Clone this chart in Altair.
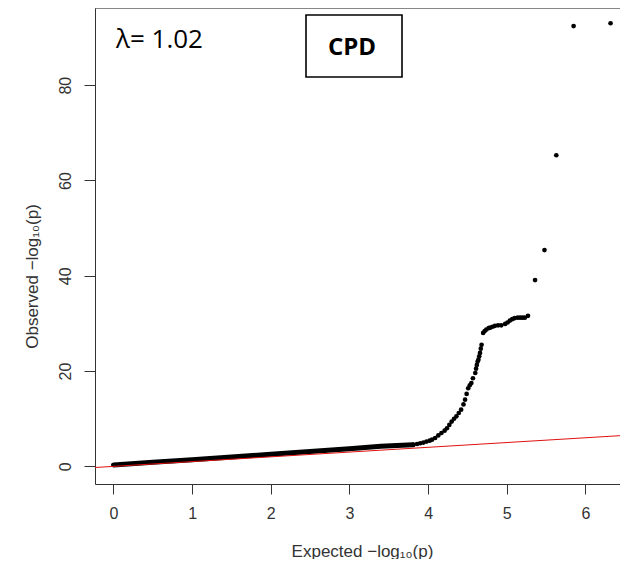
import altair as alt
import pandas as pd

# Dense lower band of the QQ plot
band_exp = [0.0, 0.5, 1.0, 1.5, 2.0, 2.5, 3.0, 3.4, 3.81]
band_obs = [0.3, 0.85, 1.4, 1.95, 2.55, 3.1, 3.7, 4.2, 4.55]

# Individually visible points of the upper tail
tail_exp = [3.81, 3.86, 3.90, 3.94, 3.98, 4.02, 4.05, 4.09, 4.13, 4.17, 4.21, 4.24,
            4.27, 4.30, 4.33, 4.36, 4.39, 4.42, 4.45, 4.47, 4.49, 4.51, 4.53, 4.55,
            4.57, 4.60, 4.61, 4.62, 4.63, 4.64, 4.65, 4.66, 4.67, 4.68, 4.70, 4.72,
            4.74, 4.77, 4.79, 4.82, 4.85, 4.89, 4.93, 4.98, 5.01, 5.04, 5.07, 5.10,
            5.14, 5.17, 5.20, 5.23, 5.27, 5.36, 5.48, 5.63, 5.85, 6.32]
tail_obs = [4.5, 4.7, 4.85, 5.0, 5.2, 5.4, 5.6, 5.95, 6.5, 7.0, 7.5, 8.0,
            8.7, 9.4, 10.0, 10.5, 11.2, 11.9, 13.0, 14.0, 15.2, 16.4, 17.0, 17.5,
            18.5, 19.6, 20.5, 21.3, 22.0, 22.4, 23.1, 23.8, 24.7, 25.5, 28.0, 28.4,
            28.7, 29.0, 29.1, 29.3, 29.5, 29.6, 29.6, 29.9, 30.2, 30.6, 30.9, 31.1,
            31.2, 31.2, 31.2, 31.2, 31.6, 39.1, 45.4, 65.3, 92.4, 93.0]

ref_line = [-0.3, 7.0]
x_ticks = [0, 1, 2, 3, 4, 5, 6]
y_ticks = [0, 20, 40, 60, 80]
x_domain = [-0.235, 6.44]
y_domain = [-3.7, 96.2]

lambda_text = ["λ= 1.02"]
box_text = ["CPD"]

W, H = 525, 476
FONT = "Liberation Sans"
GREY = "#333333"

xscale = alt.Scale(domain=x_domain, nice=False, zero=False)
yscale = alt.Scale(domain=y_domain, nice=False, zero=False)

xaxis = alt.Axis(values=x_ticks, format="d", title="Expected  −log₁₀(p)", grid=False,
                 tickSize=10, labelPadding=11, labelFontSize=16, labelFont=FONT,
                 labelColor=GREY, titleFont=FONT, titleFontSize=17,
                 titleFontWeight="normal", titleColor=GREY, titleY=67,
                 titleX=267,
                 titleBaseline="middle", domainColor=GREY, tickColor=GREY,
                 labelFlush=False)
yaxis = alt.Axis(values=y_ticks, format="d", title="Observed  −log₁₀(p)", grid=False,
                 tickSize=11, labelPadding=11, labelFontSize=16, labelFont=FONT,
                 labelColor=GREY, labelAngle=270, labelAlign="center",
                 labelBaseline="bottom", titleFont=FONT, titleFontSize=17,
                 titleFontWeight="normal", titleColor=GREY, titleAngle=270,
                 titleX=-54, titleY=268, titleAlign="center",
                 titleBaseline="bottom", domainColor=GREY, tickColor=GREY,
                 labelFlush=False)

band_df = pd.DataFrame({"e": band_exp, "o": band_obs})
tail_df = pd.DataFrame({"e": tail_exp, "o": tail_obs})
ref_df = pd.DataFrame({"e": ref_line, "o": ref_line})

band = alt.Chart(band_df).mark_line(color="black", strokeWidth=5,
                                    strokeCap="round", clip=True).encode(
    x=alt.X("e:Q", scale=xscale, axis=xaxis),
    y=alt.Y("o:Q", scale=yscale, axis=yaxis),
)
pts = alt.Chart(tail_df).mark_circle(color="black", size=22, opacity=1,
                                     clip=True).encode(
    x=alt.X("e:Q", scale=xscale),
    y=alt.Y("o:Q", scale=yscale),
)
ref = alt.Chart(ref_df).mark_line(color="#e01010", strokeWidth=1,
                                  clip=True).encode(
    x=alt.X("e:Q", scale=xscale),
    y=alt.Y("o:Q", scale=yscale),
)
top_border = alt.Chart(pd.DataFrame({"a": [0]})).mark_rule(
    color=GREY, strokeWidth=1).encode(
    x=alt.value(0), x2=alt.value(W), y=alt.value(0))

lam = alt.Chart(pd.DataFrame({"t": lambda_text})).mark_text(
    font="Open Sans", fontSize=26, align="left", baseline="alphabetic",
    color="black").encode(text="t:N", x=alt.value(21), y=alt.value(40))

box = alt.Chart(pd.DataFrame({"a": [0]})).mark_rect(
    fill="white", stroke="black", strokeWidth=1.6).encode(
    x=alt.value(211), x2=alt.value(307), y=alt.value(7), y2=alt.value(69))

cpd = alt.Chart(pd.DataFrame({"t": box_text})).mark_text(
    font="Open Sans", fontSize=24, fontWeight="bold", align="center",
    baseline="alphabetic", color="black").encode(
    text="t:N", x=alt.value(257), y=alt.value(47))

chart = alt.layer(band, pts, ref, top_border, lam, box, cpd).properties(
    width=W, height=H,
    autosize=alt.AutoSizeParams(type="none"),
    padding={"left": 87, "top": 0, "right": 0, "bottom": 75},
).configure_view(stroke=None).configure(background="white")

chart.save("out.html", embed_options={"renderer": "svg", "actions": False})
